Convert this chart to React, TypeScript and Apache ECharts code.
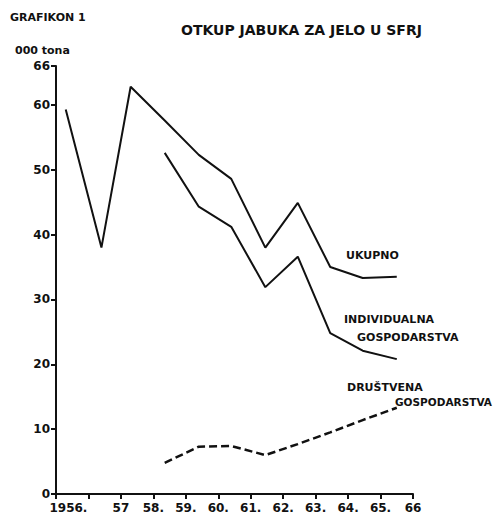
import React, { useEffect, useRef } from "react";
import * as echarts from "echarts";

// Year positions at which the values are plotted (as drawn on the chart)
const xPos = [1955.3, 1956.4, 1957.3, 1958.35, 1959.4, 1960.4, 1961.45, 1962.45, 1963.45, 1964.45, 1965.5];
// Values in 000 tons
const ukupno = [59.3, 38.0, 62.8, 57.6, 52.3, 48.6, 38.0, 44.9, 35.0, 33.3, 33.5];
const individualna = [null, null, null, 52.6, 44.3, 41.2, 31.9, 36.6, 24.8, 22.1, 20.8];
const drustvena = [null, null, null, 4.8, 7.3, 7.4, 6.0, 7.7, 9.5, 11.4, 13.3];

// Axis tick values and labels
const xTickYears = [1955, 1956, 1957, 1958, 1959, 1960, 1961, 1962, 1963, 1964, 1965, 1966];
const xTickLabels = ["", "1956.", "57", "58.", "59.", "60.", "61.", "62.", "63.", "64.", "65.", "66"];

const FONT = "DejaVu Sans";
const INK = "#111";

function pairs(vals: (number | null)[]) {
  const out: [number, number][] = [];
  vals.forEach((v, i) => {
    if (v !== null) out.push([xPos[i], v]);
  });
  return out;
}

export default function App() {
  const ref = useRef<HTMLDivElement>(null);
  useEffect(() => {
    if (!ref.current) return;
    const chart = echarts.init(ref.current, null, { renderer: "svg" });
    const textStyle = (text: string, size = 11) => ({
      text,
      fill: INK,
      font: `bold ${size}px "${FONT}"`,
      align: "left",
      verticalAlign: "middle",
    });
    chart.setOption({
      animation: false,
      backgroundColor: "#fff",
      grid: { left: 56, right: 85, top: 66, bottom: 24 },
      xAxis: {
        type: "value",
        min: 1955,
        max: 1966,
        interval: 1,
        axisLine: { show: true, lineStyle: { color: INK, width: 2 } },
        axisTick: { show: true, length: 5, lineStyle: { color: INK, width: 2 } },
        splitLine: { show: false },
        axisLabel: {
          color: INK,
          fontFamily: FONT,
          fontWeight: "bold",
          fontSize: 12,
          margin: 8,
          showMinLabel: true,
          showMaxLabel: true,
          formatter: (v: number) => {
            const i = xTickYears.indexOf(Math.round(v));
            const t = i >= 0 ? xTickLabels[i] : "";
            if (i === 1) return `{s|${t}}`;
            return t;
          },
          rich: {
            s: {
              color: INK,
              fontFamily: FONT,
              fontWeight: "bold",
              fontSize: 12,
              padding: [0, 40, 0, 0],
            },
          },
        },
      },
      yAxis: {
        type: "value",
        min: 0,
        max: 66,
        interval: 10,
        axisLine: { show: true, lineStyle: { color: INK, width: 2 } },
        axisTick: { show: true, length: 5, lineStyle: { color: INK, width: 2 } },
        splitLine: { show: false },
        axisLabel: {
          color: INK,
          fontFamily: FONT,
          fontWeight: "bold",
          fontSize: 12,
          margin: 6,
          showMaxLabel: true,
        },
      },
      series: [
        {
          name: "UKUPNO",
          type: "line",
          data: pairs(ukupno),
          symbol: "none",
          lineStyle: { color: INK, width: 2 },
        },
        {
          name: "INDIVIDUALNA GOSPODARSTVA",
          type: "line",
          data: pairs(individualna),
          symbol: "none",
          lineStyle: { color: INK, width: 2 },
        },
        {
          name: "DRUŠTVENA GOSPODARSTVA",
          type: "line",
          data: pairs(drustvena),
          symbol: "none",
          lineStyle: { color: INK, width: 2.5, type: [8, 4] },
        },
      ],
      graphic: [
        { type: "text", x: 10, y: 17, style: textStyle("GRAFIKON 1") },
        { type: "text", x: 181, y: 30, style: textStyle("OTKUP JABUKA ZA JELO U SFRJ", 14) },
        { type: "text", x: 15, y: 50, style: textStyle("000 tona", 11) },
        { type: "text", x: 346, y: 255, style: textStyle("UKUPNO") },
        { type: "text", x: 344, y: 319, style: textStyle("INDIVIDUALNA") },
        { type: "text", x: 357, y: 337, style: textStyle("GOSPODARSTVA") },
        { type: "text", x: 347, y: 387, style: textStyle("DRUŠTVENA") },
        { type: "text", x: 395, y: 402, style: textStyle("GOSPODARSTVA", 10.5) },
      ],
    });
    return () => chart.dispose();
  }, []);
  return <div ref={ref} style={{ width: 498, height: 518, position: "absolute", left: 0, top: 0 }} />;
}
